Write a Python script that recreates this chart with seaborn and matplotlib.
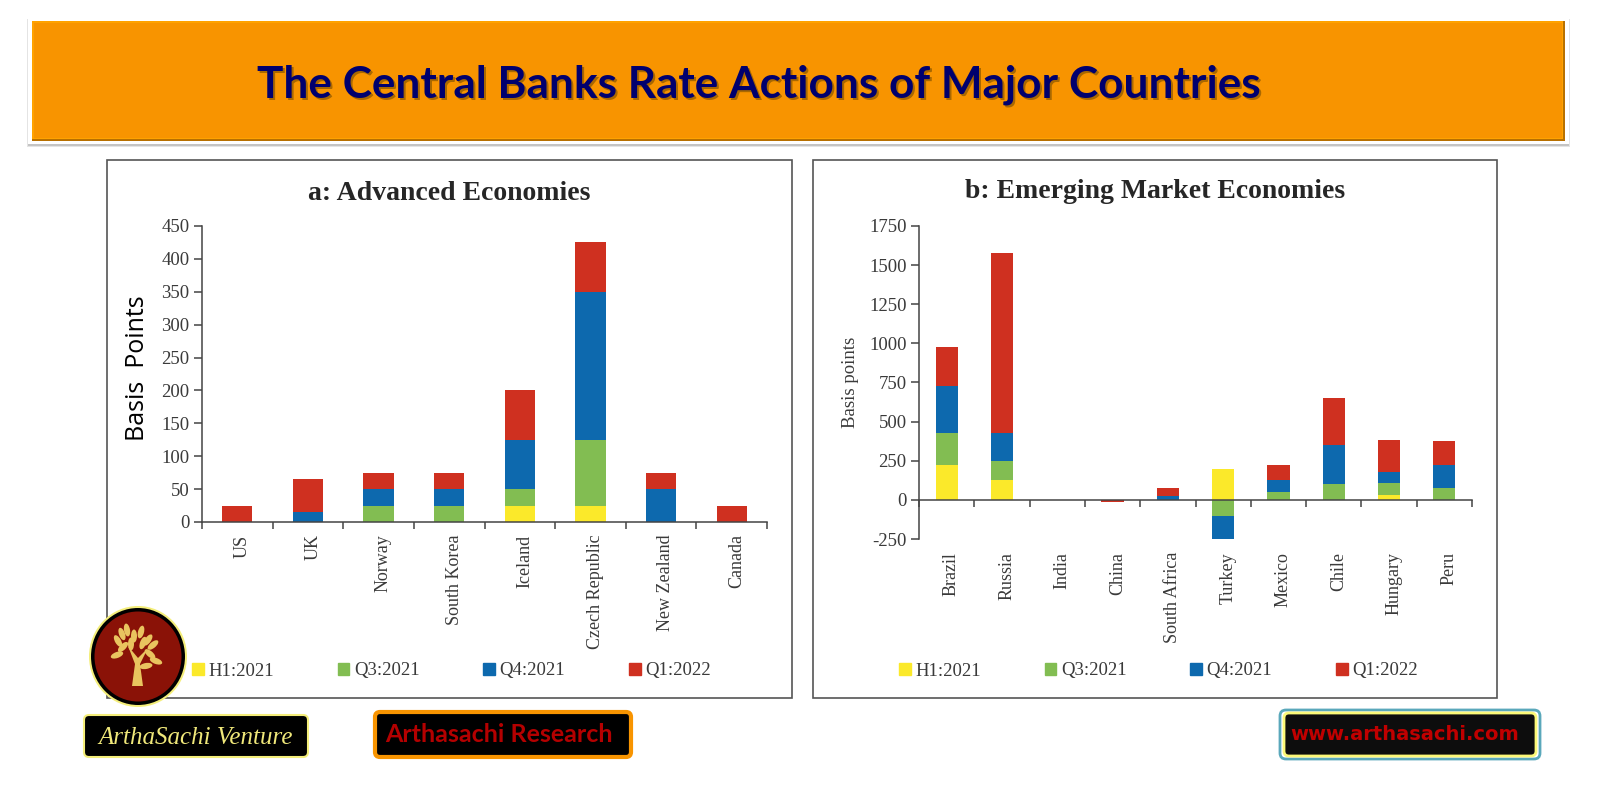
import numpy as np
import pandas as pd
import matplotlib
matplotlib.use("Agg")
import matplotlib.pyplot as plt
from matplotlib.patches import Ellipse, FancyBboxPatch, Polygon, Rectangle
from matplotlib.transforms import ScaledTranslation
import seaborn as sns

# values, basis points
periods = ["H1:2021", "Q3:2021", "Q4:2021", "Q1:2022"]
colors = ["#fbe92a", "#82bd52", "#0d69ae", "#cf3020"]

adv_names = ["US", "UK", "Norway", "South Korea", "Iceland", "Czech Republic", "New Zealand", "Canada"]
adv_h1 = [0, 0, 0, 0, 25, 25, 0, 0]
adv_q3 = [0, 0, 25, 25, 25, 100, 0, 0]
adv_q4 = [0, 15, 25, 25, 75, 225, 50, 0]
adv_q1 = [25, 50, 25, 25, 75, 75, 25, 25]
adv_ticks = [0, 50, 100, 150, 200, 250, 300, 350, 400, 450]

eme_names = ["Brazil", "Russia", "India", "China", "South Africa", "Turkey", "Mexico", "Chile", "Hungary", "Peru"]
eme_h1 = [225, 125, 0, 0, 0, 200, 0, 0, 30, 0]
eme_q3 = [200, 125, 0, 0, 0, -100, 50, 100, 75, 75]
eme_q4 = [300, 175, 0, 0, 25, -162, 75, 250, 75, 150]
eme_q1 = [250, 1150, 0, -12, 50, 0, 100, 300, 200, 150]
eme_ticks = [-250, 0, 250, 500, 750, 1000, 1250, 1500, 1750]

W, H = 1600, 800
SERIF = "Liberation Serif"
TXT = "#3a3a3a"

sns.set_style("ticks")
plt.rcParams["font.family"] = SERIF
plt.rcParams["axes.unicode_minus"] = False


def px_axes(fig, left, top, right, bottom):
    return fig.add_axes([left / W, 1 - bottom / H, (right - left) / W, (bottom - top) / H])


def stacked(ax, names, series, bar_w):
    df = pd.DataFrame(dict(zip(periods, series)), index=names)
    pos = np.zeros(len(names))
    neg = np.zeros(len(names))
    for p, c in zip(periods, colors):
        vals = df[p].to_numpy(dtype=float)
        base = np.where(vals >= 0, pos, neg)
        sns.barplot(x=names, y=vals, bottom=base, color=c, width=bar_w, saturation=1,
                    linewidth=0, ax=ax, legend=False)
        pos = pos + np.clip(vals, 0, None)
        neg = neg + np.clip(vals, None, 0)


def style(ax, names, ticks, pad):
    ax.set_ylim(ticks[0], ticks[-1])
    ax.set_yticks(ticks)
    ax.set_xlim(-0.5, len(names) - 0.5)
    ax.set_xticks(range(len(names)))
    ax.set_xticks(np.arange(len(names) + 1) - 0.5, minor=True)
    ax.tick_params(axis="x", which="major", length=0, pad=pad, labelrotation=90,
                   labelsize=13, labelcolor=TXT)
    ax.tick_params(axis="x", which="minor", length=5, width=1.1, color="#444444", direction="out")
    ax.tick_params(axis="y", length=6, width=1.1, color="#444444", labelsize=13.5, labelcolor=TXT, pad=3)
    sns.despine(ax=ax)
    for side in ["left", "bottom"]:
        ax.spines[side].set_color("#444444")
        ax.spines[side].set_linewidth(1.1)
    ax.spines["bottom"].set_position(("data", 0))
    ax.set_xlabel("")
    ax.set_ylabel("")
    # rotated labels sit a little left of the bar centres otherwise
    shift = ScaledTranslation(3.5 / 72, 0, ax.figure.dpi_scale_trans)
    for lab in ax.get_xticklabels():
        lab.set_transform(lab.get_transform() + shift)


def add_legend(fig, x, y):
    handles = [Rectangle((0, 0), 1, 1, color=c) for c in colors]
    return fig.legend(handles, periods, ncol=4, loc="center left", frameon=False,
                      bbox_to_anchor=(x / W, 1 - y / H), fontsize=13.5, handlelength=0.62,
                      handleheight=0.62, handletextpad=0.25, columnspacing=3.4,
                      borderaxespad=0, borderpad=0, labelcolor=TXT)


fig = plt.figure(figsize=(W / 100, H / 100), dpi=100, facecolor="white")

ax_a = px_axes(fig, 202, 226, 767, 522)
stacked(ax_a, adv_names, [adv_h1, adv_q3, adv_q4, adv_q1], 0.43)
style(ax_a, adv_names, adv_ticks, 9)
add_legend(fig, 192, 671)

ax_b = px_axes(fig, 919, 226, 1472, 539)
stacked(ax_b, eme_names, [eme_h1, eme_q3, eme_q4, eme_q1], 0.40)
style(ax_b, eme_names, eme_ticks, 37.5)
add_legend(fig, 899, 671)

ax_b.set_ylabel("Basis points", fontsize=13.5, color=TXT)
ax_b.yaxis.set_label_coords((859 - 919) / 553, (539 - 382) / 313)

# overlay in pixel coordinates: banner, frames, logo and badges
top = fig.add_axes([0, 0, 1, 1], zorder=5)
top.set_xlim(0, W)
top.set_ylim(H, 0)
top.axis("off")
top.patch.set_alpha(0)

# panel frames
for (l, t, r, b) in [(107, 160, 792, 698), (813, 160, 1497, 698)]:
    top.add_patch(Rectangle((l, t), r - l, b - t, fc="none", ec="#555555", lw=1.2))

# banner
top.add_patch(Rectangle((27, 19), 1543, 128, fc="#e4e4e4", ec="none"))
top.add_patch(Rectangle((28, 19), 1541, 127, fc="#c4c4c4", ec="none"))
top.add_patch(Rectangle((28, 18), 1541, 126, fc="white", ec="none"))
top.add_patch(Rectangle((32, 21), 1533, 120, fc="#b87000", ec="none"))
top.add_patch(Rectangle((32, 21), 1531, 118, fc="#ffa200", ec="none"))
top.add_patch(Rectangle((34, 23), 1528, 115, fc="#f89400", ec="none"))
title = "The Central Banks Rate Actions of Major Countries"
top.text(760.5, 86.5, title, family="Lato", weight="bold", fontsize=31.8, color="#a96800", ha="center", va="center")
top.text(759, 85, title, family="Lato", weight="bold", fontsize=31.8, color="#00006e", ha="center", va="center")

# panel titles
top.text(449, 193, "a: Advanced Economies", fontsize=20, weight="bold", color="#262626", ha="center", va="center")
top.text(1155, 192, "b: Emerging Market Economies", fontsize=20, weight="bold", color="#262626", ha="center", va="center")
top.text(137, 368, "Basis  Points", family="Open Sans", fontsize=18, color="black", rotation=90,
         ha="center", va="center")

# logo
GOLD = "#e9c45f"
top.add_patch(Ellipse((138, 656.5), 98, 101, fc="#f4ee7a", ec="none"))
top.add_patch(Ellipse((138, 656.5), 94, 97, fc="black", ec="none"))
top.add_patch(Ellipse((138, 656.5), 87, 90, fc="#8a1207", ec="none"))
top.add_patch(Polygon([(132, 686), (143, 686), (140, 664), (148, 648), (138, 658), (128, 646), (135, 664)],
                      closed=True, fc=GOLD, ec="none"))
leaf_x = [118, 122, 127, 134, 141, 148, 153, 117, 123, 150, 156, 131, 143, 146]
leaf_y = [641, 634, 630, 636, 632, 640, 645, 655, 647, 654, 661, 644, 643, 666]
leaf_a = [-30, -20, -10, 0, 15, 35, 50, 70, 45, -50, -70, 0, 20, 80]
for lx, ly, la in zip(leaf_x, leaf_y, leaf_a):
    top.add_patch(Ellipse((lx, ly), 6, 13, angle=la, fc=GOLD, ec="none"))


# badges
def badge(l, t, r, b, fc, ec, lw):
    top.add_patch(FancyBboxPatch((l + 4, t + 4), r - l - 8, b - t - 8, boxstyle="round,pad=3,rounding_size=5",
                                 fc=fc, ec=ec, lw=lw))


badge(83, 714, 309, 758, "black", "#f4ee7a", 1.5)
top.text(196, 738, "ArthaSachi Venture", family="Liberation Serif", style="italic", fontsize=18,
         color="#f0e87a", ha="center", va="center")

badge(374, 711, 632, 758, "black", "#f89400", 3)
top.text(499, 735, "Arthasachi Research", family="Lato", weight="bold", fontsize=18,
         color="#b40000", ha="center", va="center")

top.add_patch(FancyBboxPatch((1283, 713), 254, 43, boxstyle="round,pad=3,rounding_size=6", fc="none",
                             ec="#5aa8bb", lw=2))
badge(1283, 712, 1537, 757, "#0d0d0d", "#fbf878", 2)
top.text(1405, 735, "www.arthasachi.com", family="DejaVu Sans", weight="bold", fontsize=14,
         color="#c00000", ha="center", va="center")

fig.savefig("out.png", dpi=100, facecolor="white")
